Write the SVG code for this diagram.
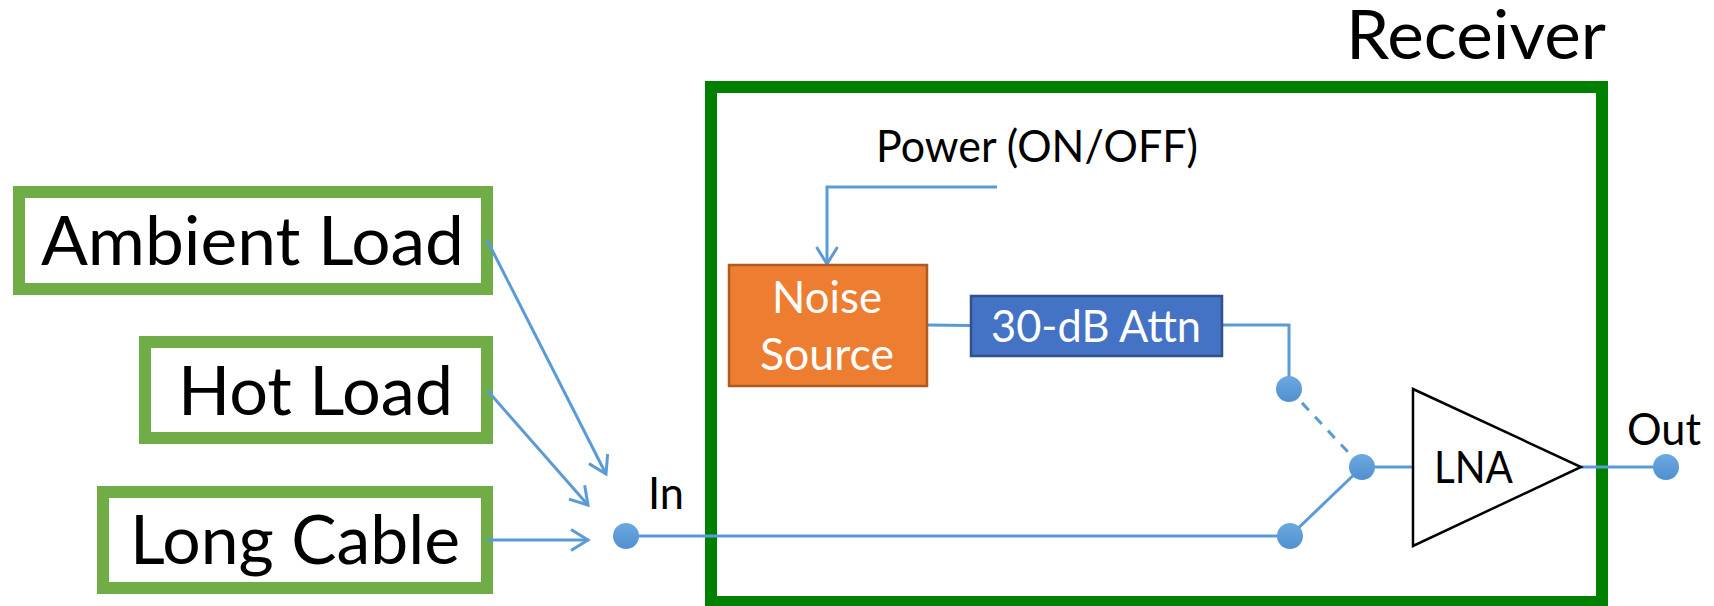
<svg xmlns="http://www.w3.org/2000/svg" width="1714" height="606" viewBox="0 0 1714 606">
<style>
text{font-family:Lato,"Liberation Sans",sans-serif;fill:#000}
.big{font-size:68px}
.mid{font-size:44px}
.w{fill:#fff}
.load{fill:#fff;stroke:#70AD47;stroke-width:12}
.c{fill:none;stroke:#5B9BD5;stroke-width:3}
.arrow{marker-end:url(#head)}
.dot{fill:url(#dotfill)}
</style>
<defs>
<marker id="head" markerUnits="userSpaceOnUse" markerWidth="24" markerHeight="26" refX="20" refY="12" orient="auto">
<path d="M3 1.500 L20 12 L3 22.500" fill="none" stroke="#5B9BD5" stroke-width="3"/>
</marker>
<linearGradient id="dotfill" x1="0" y1="0" x2="0" y2="1">
<stop offset="0" stop-color="#6DA8E0"/><stop offset="1" stop-color="#5090D0"/>
</linearGradient>
</defs>
<rect width="1714" height="606" fill="#fff"/>
<g id="receiver">
<rect x="711" y="87" width="891" height="515" fill="none" stroke="#008000" stroke-width="12"/>
<text class="big" x="1346" y="59" textLength="260" lengthAdjust="spacingAndGlyphs">Receiver</text>
</g>
<g id="ambient-load">
<rect class="load" x="19" y="192" width="468" height="97"/>
<text class="big" x="41" y="265" textLength="423" lengthAdjust="spacingAndGlyphs">Ambient Load</text>
</g>
<g id="hot-load">
<rect class="load" x="145" y="342" width="342" height="96"/>
<text class="big" x="178" y="415" textLength="275" lengthAdjust="spacingAndGlyphs">Hot Load</text>
</g>
<g id="long-cable">
<rect class="load" x="103" y="492" width="384" height="96"/>
<text class="big" x="130" y="564" textLength="330" lengthAdjust="spacingAndGlyphs">Long Cable</text>
</g>
<g id="connectors">
<path class="c arrow" d="M487 240 L606 474"/>
<path class="c arrow" d="M487 390 L588 505"/>
<path class="c arrow" d="M487 540 L588 540"/>
<path class="c" d="M626 536 L1290 536 L1362 467"/>
<path class="c arrow" d="M997 187 L827 187 L827 264"/>
<path class="c" d="M927 325 L971 325.500"/>
<path class="c" d="M1222 325 L1289 325 L1289 389"/>
<path class="c" d="M1289 389 L1362 467" stroke-dasharray="10 9"/>
<path class="c" d="M1362 467 L1413 467"/>
<path class="c" d="M1581 467 L1666 467"/>
</g>
<g id="noise-source">
<rect x="729" y="265" width="198" height="121" fill="#ED7D31" stroke="#AE5A21" stroke-width="2.500"/>
<text class="mid w" x="772" y="313" textLength="110" lengthAdjust="spacingAndGlyphs">Noise</text>
<text class="mid w" x="760" y="370" textLength="134" lengthAdjust="spacingAndGlyphs">Source</text>
</g>
<g id="attenuator">
<rect x="971" y="296" width="251" height="60" fill="#4472C4" stroke="#2F528F" stroke-width="2.500"/>
<text class="mid w" x="991" y="342" textLength="210" lengthAdjust="spacingAndGlyphs">30-dB Attn</text>
</g>
<g id="lna">
<path d="M1413 389 L1581 467 L1413 546 Z" fill="#fff" stroke="#000" stroke-width="2.500"/>
<text class="mid" x="1434" y="483" textLength="79" lengthAdjust="spacingAndGlyphs">LNA</text>
</g>
<g id="power-label"><text class="mid" x="876" y="162" textLength="322" lengthAdjust="spacingAndGlyphs">Power (ON/OFF)</text></g>
<g id="in-port">
<circle class="dot" cx="626" cy="536" r="13"/>
<text class="mid" x="648" y="509" textLength="36" lengthAdjust="spacingAndGlyphs">In</text>
</g>
<g id="out-port">
<circle class="dot" cx="1666" cy="467" r="13"/>
<text class="mid" x="1627" y="445" textLength="74" lengthAdjust="spacingAndGlyphs">Out</text>
</g>
<g id="switch-top"><circle class="dot" cx="1289" cy="389" r="13"/></g>
<g id="switch-common"><circle class="dot" cx="1362" cy="467" r="13"/></g>
<g id="switch-bottom"><circle class="dot" cx="1290" cy="536" r="13"/></g>
</svg>
